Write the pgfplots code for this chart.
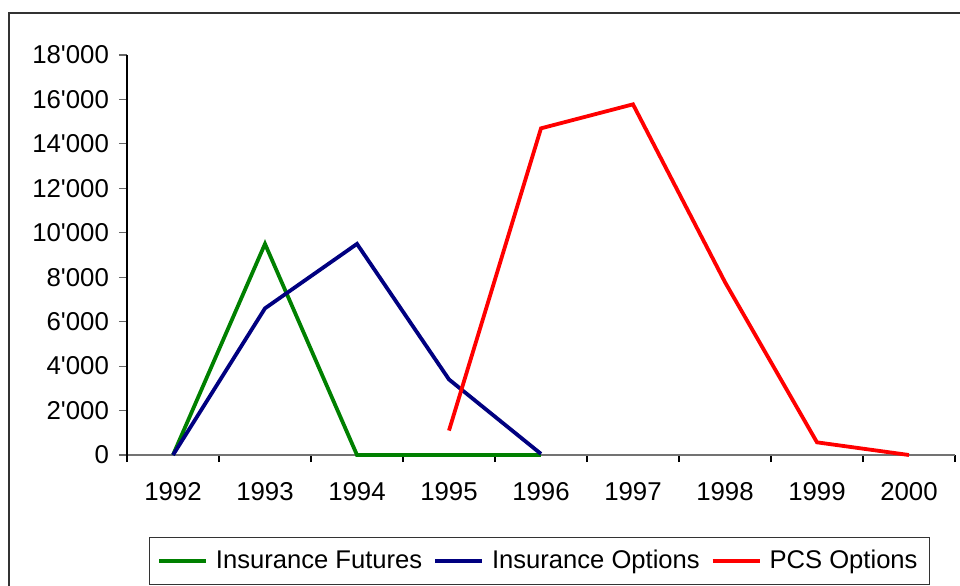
\documentclass[border=0pt]{standalone}
\usepackage{pgfplots}
\pgfplotsset{compat=1.18}
\usepackage{fontspec}
\setmainfont{Liberation Sans}
\definecolor{fgreen}{RGB}{0,128,0}
\definecolor{fnavy}{RGB}{0,0,128}
\definecolor{fred}{RGB}{255,0,0}
\begin{document}
\begin{tikzpicture}
\useasboundingbox (0,0) rectangle (480pt,292.5pt);
\draw[line width=1pt, black!80] (4.5pt,-20pt) -- (4.5pt,286pt) -- (520pt,286pt);
\begin{axis}[
  at={(63.5pt,65pt)}, anchor=south west,
  scale only axis, width=414pt, height=200pt,
  xmin=-0.5, xmax=8.5, ymin=0, ymax=18000,
  axis x line*=bottom, axis y line*=left,
  x axis line style={-, line width=0.8pt, black!55},
  y axis line style={-, line width=0.7pt, black},
  xtick={0,...,8},
  xticklabels={1992,1993,1994,1995,1996,1997,1998,1999,2000},
  major x tick style={draw=none},
  minor xtick={-0.5,0.5,...,8.5},
  minor x tick style={line width=0.6pt, black},
  minor tick length=3.5pt,
  major tick length=4pt,
  tick align=outside,
  ytick={0,2000,...,18000},
  y tick style={line width=0.6pt, black!60},
  scaled y ticks=false,
  tick label style={font=\fontsize{12.9}{15}\selectfont},
  yticklabel style={/pgf/number format/1000 sep={\textquotesingle}, /pgf/number format/assume math mode=true, xshift=-1.5pt},
  xticklabel style={yshift=-6pt},
  clip=false,
  legend columns=3,
  legend style={at={(0.498,-0.265)}, anchor=center, draw=black!80, line width=0.5pt,
    font=\fontsize{12.8}{15}\selectfont, inner xsep=4pt, inner ysep=4.5pt,
    /tikz/every odd column/.append style={column sep=2pt},
    /tikz/every even column/.append style={column sep=3.5pt}},
  legend image code/.code={\draw[#1, line width=1.9pt] (0pt,0pt) -- (23.5pt,0pt);},
]
\draw[line width=0.7pt, black] (axis cs:-0.5,0) -- ([yshift=-3.5pt]axis cs:-0.5,0);
\addplot[fgreen, line width=1.9pt] coordinates {(0,0) (1,9500) (2,0) (3,0) (4,0)};
\addlegendentry{Insurance Futures}
\addplot[fnavy, line width=1.9pt] coordinates {(0,0) (1,6600) (2,9500) (3,3400) (4,50)};
\addlegendentry{Insurance Options}
\addplot[fred, line width=1.9pt] coordinates {(3,1100) (4,14700) (5,15780) (6,7780) (7,570) (8,0)};
\addlegendentry{PCS Options}
\end{axis}
\end{tikzpicture}
\end{document}
